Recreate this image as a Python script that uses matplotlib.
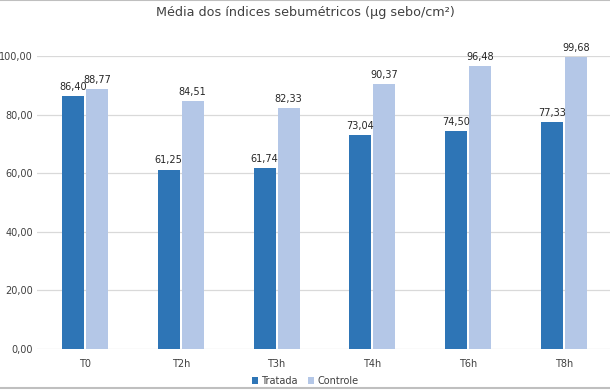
import numpy as np
import matplotlib.pyplot as plt
from matplotlib.lines import Line2D

plt.rcParams["font.family"] = "DejaVu Sans"

categories = ["T0", "T2h", "T3h", "T4h", "T6h", "T8h"]
tratada = [86.40, 61.25, 61.74, 73.04, 74.50, 77.33]
controle = [88.77, 84.51, 82.33, 90.37, 96.48, 99.68]
yticks = [0, 20, 40, 60, 80, 100]

c_trat = "#2E75B6"
c_ctrl = "#B4C7E7"
txt = "#404040"

fig = plt.figure(figsize=(6.1, 3.9), dpi=100)
ax = fig.add_axes([37/610, 41/390, 575/610, 293/390])

x = np.arange(len(categories))
w = 0.23
b1 = ax.bar(x - 0.125, tratada, w, color=c_trat, label="Tratada", zorder=3)
b2 = ax.bar(x + 0.125, controle, w, color=c_ctrl, label="Controle", zorder=3)

def fmt(v):
    return f"{v:.2f}".replace(".", ",")

for bars, vals in ((b1, tratada), (b2, controle)):
    for r, v in zip(bars, vals):
        ax.annotate(fmt(v), (r.get_x() + r.get_width() / 2, v),
                    xytext=(0, 3), textcoords="offset points",
                    ha="center", va="bottom", fontsize=7, color="#262626",
                    annotation_clip=False)

ax.set_xlim(-0.5, 5.5)
ax.set_ylim(0, 100)
ax.set_yticks(yticks)
ax.set_yticklabels([fmt(v) for v in yticks])
ax.set_xticks(x)
ax.set_xticklabels(categories)
ax.tick_params(length=0, labelsize=7, colors=txt)
ax.tick_params(axis="x", pad=7)
ax.tick_params(axis="y", pad=3)
ax.grid(axis="y", color="#D9D9D9", linewidth=0.9, zorder=0)
for s in ax.spines.values():
    s.set_visible(False)

fig.text(0.5, 0.968, "Média dos índices sebumétricos (µg sebo/cm²)",
         ha="center", va="center", fontsize=9.2, color=txt)

fig.legend(loc="center", bbox_to_anchor=(0.5, 9/390), ncol=2, frameon=False,
           fontsize=7, handlelength=0.7, handleheight=0.7, handletextpad=0.3,
           columnspacing=1.0, labelcolor=txt)

fig.add_artist(Line2D([0, 1], [0.999, 0.999], color="#BFBFBF", linewidth=1.5))
fig.add_artist(Line2D([0, 1], [2/390, 2/390], color="#BFBFBF", linewidth=1.5))

fig.savefig("out.png", dpi=100)
